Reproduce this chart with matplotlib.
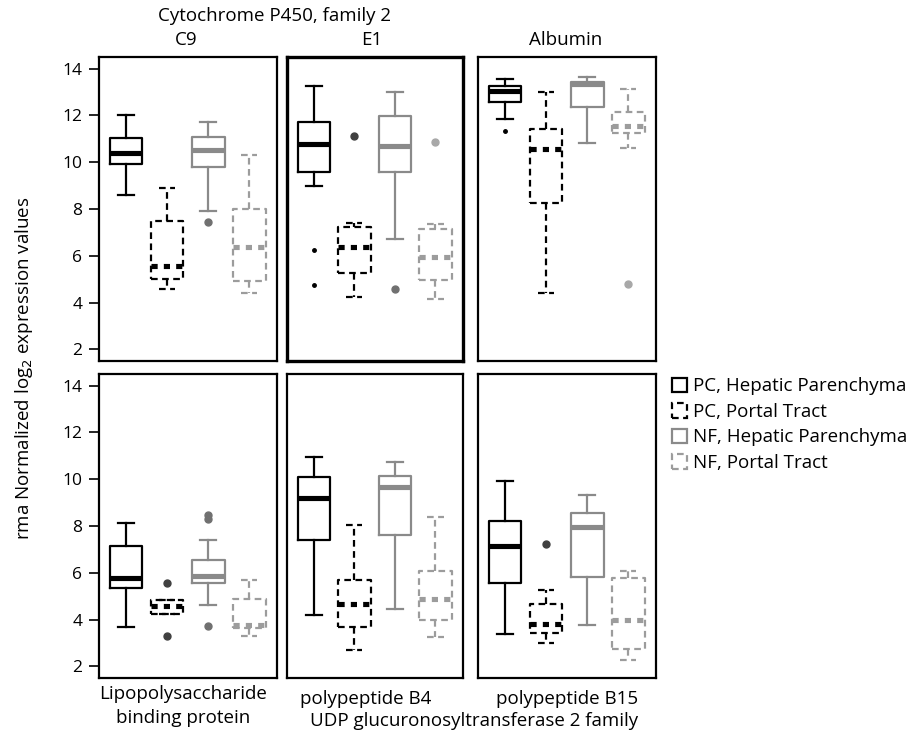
import matplotlib
matplotlib.use("Agg")
import matplotlib.pyplot as plt
from matplotlib.patches import Patch

plt.rcParams['font.family'] = ['Open Sans', 'DejaVu Sans']

groups = ["PC, Hepatic Parenchyma", "PC, Portal Tract",
          "NF, Hepatic Parenchyma", "NF, Portal Tract"]

# each box: (whislo, q1, med, q3, whishi)
c9 = [(8.6, 9.94, 10.4, 11.04, 12.0), (4.56, 5.02, 5.55, 7.48, 8.88),
      (7.92, 9.79, 10.51, 11.07, 11.72), (4.42, 4.92, 6.39, 8.02, 10.33)]
c9_out = [[], [], [7.44], []]

e1 = [(8.97, 9.57, 10.8, 11.71, 13.24), (4.24, 5.28, 6.39, 7.24, 7.41),
      (6.70, 9.57, 10.68, 11.98, 13.0), (4.17, 4.96, 5.96, 7.13, 7.34)]
e1_out = [[6.24, 4.75], [11.11], [4.6], [10.88]]

alb = [(11.87, 12.59, 13.06, 13.24, 13.56), (4.39, 8.26, 10.58, 11.42, 13.02),
       (10.83, 12.35, 13.35, 13.42, 13.64), (10.61, 11.25, 11.54, 12.15, 13.13)]
alb_out = [[11.33], [], [], [4.78]]

lbp = [(3.67, 5.33, 5.79, 7.14, 8.12), (4.22, 4.25, 4.56, 4.82, 4.85),
       (4.62, 5.56, 5.86, 6.53, 7.41), (3.3, 3.64, 3.75, 4.89, 5.67)]
lbp_out = [[], [5.57, 3.28], [8.48, 8.31, 3.72], []]

b4 = [(4.21, 7.41, 9.18, 10.09, 10.96), (2.71, 3.68, 4.68, 5.70, 8.05),
      (4.45, 7.61, 9.66, 10.13, 10.73), (3.25, 3.97, 4.88, 6.07, 8.38)]
b4_out = [[], [], [], []]

b15 = [(3.37, 5.58, 7.13, 8.21, 9.93), (3.0, 3.42, 3.79, 4.65, 5.27),
       (3.75, 5.81, 7.95, 8.55, 9.33), (2.26, 2.76, 3.97, 5.79, 6.07)]
b15_out = [[], [7.21], [], []]

panels = [(c9, c9_out, "C9"), (e1, e1_out, "E1"), (alb, alb_out, "Albumin"),
          (lbp, lbp_out, "Lipopolysaccharide\nbinding protein"),
          (b4, b4_out, "polypeptide B4"), (b15, b15_out, "polypeptide B15")]

colors = ["black", "black", "#8a8a8a", "#9c9c9c"]
styles = ["-", (0, (3, 2)), "-", (0, (3, 2))]
flier_colors = ["black", "#404040", "#707070", "#a8a8a8"]
flier_size = [2.5, 5, 5, 5]

fig = plt.figure(figsize=(9.1, 7.36), dpi=100)
W, H = 910, 736
lefts = [99, 287, 478]
widths = [178, 176, 178]
tops = [57, 374]
ph = 304
# label positions (pixels) as placed in the reference
label_x = [186, 372, 566, 183, 366, 567]
label_y = [40, 40, 40, 685, 690, 690]

for i, (data, outl, name) in enumerate(panels):
    r, c = divmod(i, 3)
    ax = fig.add_axes([lefts[c] / W, 1 - (tops[r] + ph) / H, widths[c] / W, ph / H])
    stats = []
    for d, o in zip(data, outl):
        stats.append(dict(whislo=d[0], q1=d[1], med=d[2], q3=d[3], whishi=d[4], fliers=o))
    bp = ax.bxp(stats, positions=[1, 2, 3, 4], widths=0.8, showfliers=True)
    for k in range(4):
        col, ls = colors[k], styles[k]
        bp['boxes'][k].set(color=col, linestyle=ls, linewidth=1.6)
        for wh in bp['whiskers'][2 * k:2 * k + 2]:
            wh.set(color=col, linestyle=ls, linewidth=1.6)
        for cp in bp['caps'][2 * k:2 * k + 2]:
            cp.set(color=col, linestyle=ls, linewidth=1.6)
        if k % 2 == 0:
            bp['medians'][k].set(color=col, linestyle="-", linewidth=3.7, solid_capstyle="butt")
        else:
            bp['medians'][k].set(color=col, linestyle=(0, (1.2, 1.2)), linewidth=3.7,
                                 dash_capstyle="butt")
        bp['fliers'][k].set(marker="o", markerfacecolor=flier_colors[k],
                            markeredgecolor=flier_colors[k], markersize=flier_size[k],
                            linestyle="none")
    ax.set_xlim(0.34, 4.68)
    ax.set_ylim(1.5, 14.5)
    ax.set_xticks([])
    lw = 2.4 if i == 1 else 1.6
    for sp in ax.spines.values():
        sp.set_linewidth(lw)
    if c == 0:
        ax.set_yticks([2, 4, 6, 8, 10, 12, 14])
        ax.tick_params(axis="y", length=7, width=1.2, labelsize=12.5, pad=5)
    else:
        ax.set_yticks([])
    if r == 0:
        fig.text(label_x[i] / W, 1 - label_y[i] / H, name, ha="center", va="center",
                 fontsize=13.5)
    else:
        fig.text(label_x[i] / W, 1 - label_y[i] / H, name, ha="center", va="top",
                 fontsize=13.5, linespacing=1.45)

fig.text(274 / W, 1 - 16 / H, "Cytochrome P450, family 2", ha="center", va="center",
         fontsize=13.5)
fig.text(474 / W, 1 - 721 / H, "UDP glucuronosyltransferase 2 family", ha="center",
         va="center", fontsize=13.5)
fig.text(24 / W, 1 - 368 / H, "rma Normalized log$_2$ expression values", rotation=90,
         ha="center", va="center", fontsize=13.5)

handles = [Patch(facecolor="none", edgecolor=colors[k], linestyle=styles[k], linewidth=1.6)
           for k in range(4)]
fig.legend(handles, groups, loc="upper left", bbox_to_anchor=(664 / W, 1 - 370 / H),
           frameon=False, fontsize=13.5, handlelength=0.8, handleheight=0.8,
           handletextpad=0.35, labelspacing=0.4, borderaxespad=0)

fig.savefig("out.png", dpi=100)
